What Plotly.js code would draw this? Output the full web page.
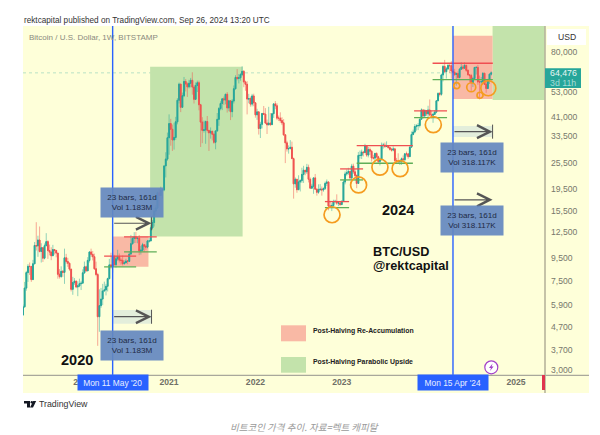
<!DOCTYPE html>
<html><head><meta charset="utf-8">
<script src="https://cdn.plot.ly/plotly-3.0.1.min.js"></script>
<style>html,body{margin:0;padding:0;background:#fff}#c{width:600px;height:435px}</style>
</head><body><div id="c"></div>
<script>
const firstWeek = '2019-04-29';
const firstOpen = 5300;
const closes = [
5760,6990,8200,8750,8730,7630,8980,10850,10800,11480,10200,10600,9520,10820,11290,10300,10140,9760,10400,10310,10030,8060,7870,8310,8220,9550,9200,9030,8500,6900,7400,7510,7070,7150,7310,7350,
8180,8700,8350,9300,10150,9900,9660,8530,8040,5200,5830,6240,6780,6860,7120,7700,8880,8720,9680,8900,9450,9670,9330,9300,9000,9070,9240,9210,9930,11050,11680,11860,11650,11700,10260,10330,10930,10770,10670,11370,11370,13020,13760,15480,15980,18680,18180,19150,19270,24680,26480,33000,
38200,36000,32260,33100,38900,48600,57400,45200,50900,59000,57500,55800,57900,59700,55700,49100,56600,58200,46400,38800,35600,35800,39000,35600,34700,35300,34200,31500,35400,39900,44600,47000,49300,48800,51700,44900,48300,43200,48200,54700,61500,60900,61300,63300,65500,58700,57300,49200,49400,46700,50800,47300,
41800,43100,36300,37900,42400,42100,38400,37700,38400,37800,42300,46800,45900,40400,40400,39400,38500,34000,31300,29400,29500,29900,26600,20500,21500,19300,20900,21200,22600,23600,23200,24300,21500,19600,20000,21800,19400,18800,19300,19400,19250,19570,20600,20900,16300,16280,16400,17100,17100,16800,16840,16550,
17100,20900,22700,23000,23300,21800,24600,23200,22350,20600,27500,27500,28450,28300,30300,27600,29200,28700,26800,26750,28050,27100,25850,26330,30500,30600,30200,30300,29800,29300,29050,29400,26100,26000,25800,25900,26550,26300,27970,27950,27150,29950,34100,35000,37050,37350,37450,39950,44000,41350,43700,42250,
43950,41700,41600,42000,43000,48300,52100,51700,63100,68900,65300,67200,69600,69400,65700,64900,63400,64000,61500,67000,68500,67700,69600,66200,63200,62700,58200,60800,68200,68200,58700,58700,58900,64200,57300,54900,59900,63600,64476];
const highs = [
5900,7450,8350,8950,9100,8800,9350,11250,13800,12000,13200,11100,10650,11080,12320,11450,10950,10650,10920,10450,10350,10050,8500,8750,8420,10500,9950,9550,9100,8500,7850,7750,7550,7500,7700,7530,
8480,9190,8800,9620,10190,10500,10250,9980,9180,8180,6900,7000,7300,7470,7300,7780,9450,10070,9950,9850,9740,10380,9990,9550,9780,9300,9460,9340,10200,12100,11900,12450,12480,11800,12090,10800,11150,10990,10960,11490,11730,13350,14100,15980,16480,18950,19480,19900,19420,24700,28400,34800,
42000,40100,37800,38500,40950,49700,58300,57500,52600,61800,60500,58400,60000,61200,64850,57000,58400,59500,59500,46800,40800,39400,39400,41300,35700,36700,35100,34700,35500,42600,45300,48100,49700,50500,51900,52900,48800,48000,49200,56600,62900,67000,63700,64300,69000,66300,59500,59200,51900,50500,51900,52000,
47500,44500,43500,38900,42600,45800,44800,39800,45400,42600,42400,47000,48200,47100,41500,42900,40800,40000,34200,32000,30500,32200,31700,26900,21900,21500,22400,21500,24200,24700,23500,25200,25000,21900,20500,21850,22700,19600,20400,20450,19950,19700,21000,21450,21000,17200,16800,17400,17400,18400,17050,16950,
17300,21300,23300,23800,24200,23400,25200,25250,23900,22600,28500,28900,29200,28800,31000,30300,30000,29850,29100,27650,28250,28400,27400,26800,31400,31300,31400,31800,30400,30100,29700,30200,29700,26800,28100,26100,26900,27500,28000,28600,28000,30200,35200,35900,38000,37950,38400,40200,44700,44000,44300,43800,
45900,49000,43600,42800,43900,48600,52800,52900,64000,70100,73700,68500,71500,71300,72700,66900,67200,64800,65500,67700,71900,70000,71900,70200,66900,63400,63800,61800,68400,69000,70000,62700,61800,64900,64500,59800,60600,64100,65500];
const lows = [
5250,5700,6800,7450,8000,7450,7600,8950,10300,9650,10100,9100,9150,9400,11000,9450,9800,9320,9760,9880,9600,7700,7710,7770,7850,7300,9000,8700,8350,6750,6520,7230,6980,6430,7050,6850,
7350,8100,8260,8550,9100,9650,9300,8430,7900,3850,4450,5700,5860,6770,6480,6750,7660,8530,8200,8800,8630,9270,9100,8900,8830,8900,9040,8950,9150,9900,10950,11130,11130,11100,9820,9880,10200,10130,10370,10530,11170,11340,12800,13200,14850,15800,16200,18100,17600,19000,21900,26000,
27700,30400,28800,29200,32300,37900,47000,43000,45000,50200,53200,50300,54900,55500,51500,47000,48800,52900,43800,30000,31200,34800,31000,34800,28800,32700,32100,31000,29300,35200,37300,43800,43900,46300,46600,42800,43400,39600,40800,47000,54400,59700,57800,59500,62300,55600,53600,42000,47100,45500,45600,45700,
40600,39700,34100,32900,36300,41700,38000,34300,37700,37200,37600,40500,44300,39600,39200,38500,37600,33700,25400,28600,28000,29300,26600,17600,19700,18700,19300,18950,20700,20700,22400,22700,20800,19550,19500,18500,19300,18150,18500,19100,18150,18900,19250,20050,15600,16150,15480,16000,16750,16500,16300,16350,
16550,17100,20400,22300,22500,21400,21400,22700,21950,19600,20600,26600,26500,27200,28200,27100,26950,27650,25800,26350,25900,26600,25350,24800,26300,29500,29700,29950,29500,28900,28600,28700,25300,25350,25350,24900,24950,26000,26000,27200,26550,27100,29900,33900,34500,35500,35700,36700,39900,40200,40550,41300,
40800,41500,40300,38500,41900,42500,48400,50500,50900,59000,64500,60800,66500,64500,60700,59600,62400,56500,60200,60800,66500,66700,67500,65100,63000,58400,53500,55700,59800,63400,57000,49000,56100,57800,57200,52500,54600,57500,62700];

const priceTicks = [3000,3700,4700,5900,7500,9500,12500,15500,19500,25500,33500,41000,53000,80000];
const priceLabels = ['3,000','3,700','4,700','5,900','7,500','9,500','12,500','15,500','19,500','25,500','33,500','41,000','53,000','80,000'];
const yearTicks = ['2020-01-06','2021-01-04','2022-01-03','2023-01-02','2024-01-01','2025-01-06'];
const yearLabels = ['<b>2020</b>','<b>2021</b>','<b>2022</b>','<b>2023</b>','<b>2024</b>','<b>2025</b>'];
const lastPrice = 64476;
const halvingWeeks = ['2020-05-11','2024-04-15'];
const halvingLabels = ["Mon 11 May '20","Mon 15 Apr '24"];

// [from, to, low, high]
const pinkZones = [['2020-05-11','2020-10-09',8720,11900],['2024-04-15','2024-09-29',49250,94650]];
const greenZones = [['2020-10-16','2021-11-10',11900,68600],['2024-09-29','2025-05-08',48750,104600]];
// [from, to, price]
const resistance = [['2020-04-05','2020-08-18',9720],['2020-06-28','2020-11-13',11860],['2022-10-23','2023-02-02',17070],['2022-12-26','2023-04-02',23920],['2023-03-06','2023-10-29',30420],['2023-11-03','2024-03-21',43520],['2024-01-20','2024-09-30',71200]];
const support = [['2020-04-05','2020-08-18',8700],['2020-06-28','2020-11-13',10160],['2022-10-23','2023-02-02',16040],['2022-12-26','2023-04-02',21350],['2023-03-06','2023-10-29',25360],['2023-11-03','2024-03-21',40600],['2024-01-20','2024-09-30',60100]];
// [date, price, radius px]
const dips = [['2022-11-22',14900,8],['2023-03-14',20270,8],['2023-06-12',24340,8],['2023-09-05',23990,8],['2024-01-23',37780,8],['2024-05-01',56500,3],['2024-07-01',55570,4.5],['2024-08-07',51170,3],['2024-09-11',55020,7.5]];
// [from, to, price, bandLow, bandHigh, endBar]
const ranges = [['2020-05-11','2020-10-22',13650,null,null,true],['2020-05-11','2020-10-22',5200,4830,5580,true],['2024-04-15','2024-09-29',35150,33280,37270,true],['2024-04-15','2024-09-29',17380,null,null,false]];
// [date, price, line 1, line 2]
const rangeNotes = [['2020-08-01',16840,'23 bars, 161d','Vol 1.183M'],['2020-08-01',3870,'23 bars, 161d','Vol 1.183M'],['2024-07-06',26850,'23 bars, 161d','Vol 318.117K'],['2024-07-06',13980,'23 bars, 161d','Vol 318.117K']];

const W=522, H=349, L=23, T=26;
const yLow=2849, yHigh=104600;
const pxPerLn = H/Math.log(yHigh/yLow);
const px = x => (x-L)/W;
const py = y => (T+H-y)/H;
const sans = 'Liberation Sans, Arimo, sans-serif';
const weeks = closes.map((_,i)=>new Date(Date.parse(firstWeek+'T00:00:00Z')+i*7*864e5).toISOString().slice(0,10));
const opens = [firstOpen].concat(closes.slice(0,-1));

const wicks = {type:'candlestick', x:weeks, open:opens, high:highs, low:lows, close:closes,
  increasing:{line:{color:'rgba(38,166,154,0.5)',width:1},fillcolor:'rgba(0,0,0,0)'},
  decreasing:{line:{color:'rgba(239,83,80,0.5)',width:1},fillcolor:'rgba(0,0,0,0)'},
  whiskerwidth:0, hoverinfo:'skip', showlegend:false};
const bodies = {type:'candlestick', x:weeks, open:opens, high:opens.map((o,i)=>Math.max(o,closes[i])), low:opens.map((o,i)=>Math.min(o,closes[i])), close:closes,
  increasing:{line:{color:'#26a69a',width:1},fillcolor:'#26a69a'},
  decreasing:{line:{color:'#ef5350',width:1},fillcolor:'#ef5350'},
  whiskerwidth:0, hoverinfo:'skip', showlegend:false};

const paperRect=(x0,y0,x1,y1,fill,layer)=>({type:'rect',xref:'paper',yref:'paper',x0:px(x0),x1:px(x1),y0:py(y0),y1:py(y1),fillcolor:fill,line:{width:0},layer:layer||'above'});
const paperLine=(x0,y0,x1,y1,color,width,layer)=>({type:'line',xref:'paper',yref:'paper',x0:px(x0),x1:px(x1),y0:py(y0),y1:py(y1),line:{color,width},layer:layer||'above'});
const p = (x,y)=>px(x).toFixed(5)+','+py(y).toFixed(5);

const shapes = [
  paperRect(23,26,589,393,'#feffd9','below'),
  {type:'line',xref:'paper',yref:'y',x0:0,x1:1,y0:lastPrice,y1:lastPrice,line:{color:'rgba(38,166,154,0.32)',width:1,dash:'dot'},layer:'below'},
  ...greenZones.map(z=>({type:'rect',xref:'x',yref:'y',x0:z[0],x1:z[1],y0:z[2],y1:z[3],fillcolor:'#c3e3ab',line:{width:0},layer:'below'})),
  ...pinkZones.map(z=>({type:'rect',xref:'x',yref:'y',x0:z[0],x1:z[1],y0:z[2],y1:z[3],fillcolor:'#f9b9a5',line:{width:0},layer:'below'})),
  ...ranges.filter(r=>r[3]).map(r=>({type:'rect',xref:'x',yref:'y',x0:r[0],x1:r[1],y0:r[3],y1:r[4],fillcolor:'#e3eedb',line:{width:0},layer:'below'})),
  ...resistance.map(r=>({type:'line',xref:'x',yref:'y',x0:r[0],x1:r[1],y0:r[2],y1:r[2],line:{color:'#ef4f52',width:1.3}})),
  ...support.map(r=>({type:'line',xref:'x',yref:'y',x0:r[0],x1:r[1],y0:r[2],y1:r[2],line:{color:'#5fae57',width:1.3}})),
  ...halvingWeeks.map(d=>({type:'line',xref:'x',yref:'paper',x0:d,x1:d,y0:0,y1:1,line:{color:'#2962ff',width:1.4}})),
  ...dips.map(d=>({type:'circle',xref:'x',yref:'y',xsizemode:'pixel',xanchor:d[0],x0:-d[2],x1:d[2],y0:d[1]*Math.exp(-d[2]/pxPerLn),y1:d[1]*Math.exp(d[2]/pxPerLn),line:{color:'#f59c1f',width:1.7}})),
  ...ranges.filter(r=>r[5]).map(r=>({type:'line',xref:'x',yref:'y',x0:r[1],x1:r[1],y0:r[2]*0.93,y1:r[2]*1.075,line:{color:'#555',width:1}})),
  paperLine(23,375.3,589,375.3,'#a9a89c',1.2),
  paperLine(545,26,545,393,'#b7b49c',1.6),
  paperRect(542,375,545,390,'#e0344e'),
  paperRect(281,325.3,306,341.3,'#f9b9a5'),
  paperRect(281,357,306,372.7,'#c3e3ab'),
  paperRect(547,29,586,45,'#ffffff'),
  paperRect(545,68.3,581,88,'#26a69a'),
  {type:'circle',xref:'paper',yref:'paper',x0:px(484.8),x1:px(497.8),y0:py(360.8),y1:py(373.8),fillcolor:'#ffffff',line:{color:'#a23fc9',width:1.2}},
  {type:'path',xref:'paper',yref:'paper',path:'M'+p(492.6,363.6)+'L'+p(489,368)+'L'+p(491,368)+'L'+p(490,371)+'L'+p(493.6,366.6)+'L'+p(491.6,366.6)+'Z',fillcolor:'#a23fc9',line:{width:0}},
  {type:'path',xref:'paper',yref:'paper',path:'M'+p(24,401)+'L'+p(30,401)+'L'+p(30,407.5)+'L'+p(27,407.5)+'L'+p(27,403.6)+'L'+p(24,403.6)+'Z',fillcolor:'#131722',line:{width:0}},
  {type:'circle',xref:'paper',yref:'paper',x0:px(30.6),x1:px(33),y0:py(401),y1:py(403.4),fillcolor:'#131722',line:{width:0}},
  {type:'path',xref:'paper',yref:'paper',path:'M'+p(33.2,401)+'L'+p(36.2,401)+'L'+p(33,407.5)+'L'+p(30,407.5)+'Z',fillcolor:'#131722',line:{width:0}}
];

const txt=(x,y,text,size,color,o)=>Object.assign({xref:'paper',yref:'paper',x:px(x),y:py(y),text,showarrow:false,xanchor:'center',yanchor:'middle',font:{family:sans,size,color}},o||{});
const annotations = [
  ...ranges.map(r=>({xref:'x',yref:'y',axref:'x',ayref:'y',x:r[1],y:Math.log10(r[2]),ax:r[0],ay:Math.log10(r[2]),text:'',showarrow:true,arrowhead:5,arrowsize:2.1,arrowwidth:1.2,arrowcolor:'#555'})),
  ...rangeNotes.map(n=>({xref:'x',yref:'y',x:n[0],y:Math.log10(n[1]),text:n[2]+'<br>'+n[3],showarrow:false,width:62,height:29,borderpad:0,bgcolor:'rgba(100,136,192,0.92)',font:{family:sans,size:8.1,color:'#1f2a44'},align:'center'})),
  ...halvingWeeks.map((d,i)=>({xref:'x',yref:'paper',x:d,y:py(382.8),yanchor:'middle',text:halvingLabels[i],showarrow:false,width:69.5,height:15,borderpad:0,bgcolor:'#2962ff',font:{family:sans,size:8.4,color:'#e8eeff'}})),
  txt(22,20,'rektcapital published on TradingView.com, Sep 26, 2024 13:20 UTC',8.2,'#333',{xanchor:'left'}),
  txt(27,37,'Bitcoin / U.S. Dollar, 1W, BITSTAMP',8,'#8a8a7e',{xanchor:'left'}),
  txt(566.5,37,'USD',8.6,'#333'),
  txt(77,360,'<b>2020</b>',14.5,'#111'),
  txt(397.5,210,'<b>2024</b>',14.5,'#111'),
  txt(370.7,252,'<b>BTC/USD</b>',12.7,'#111',{xanchor:'left'}),
  txt(370.7,265.7,'<b>@rektcapital</b>',12.7,'#111',{xanchor:'left'}),
  txt(311.3,330.7,'<b>Post-Halving Re-Accumulation</b>',6.9,'#222',{xanchor:'left'}),
  txt(311.3,361.7,'<b>Post-Halving Parabolic Upside</b>',6.9,'#222',{xanchor:'left'}),
  txt(548,73,'64,476',8.8,'#e8f6f4',{xanchor:'left'}),
  txt(548,82.6,'3d 11h',8.8,'#a8dcd6',{xanchor:'left'}),
  txt(37,404.2,'TradingView',8.8,'#333',{xanchor:'left'}),
  txt(304.5,427,'<i>비트코인 가격 추이. 자료=렉트 캐피탈</i>',9.5,'#9a9a9a',{font:{family:'Noto Sans CJK KR, sans-serif',size:9.5,color:'#9a9a9a'}})
];

const layout = {
  width:600,height:435,margin:{l:L,r:600-L-W,t:T,b:435-T-H,pad:0},
  paper_bgcolor:'#ffffff',plot_bgcolor:'rgba(0,0,0,0)',showlegend:false,dragmode:false,
  xaxis:{type:'date',range:['2019-04-29','2025-05-08'],rangeslider:{visible:false},showgrid:false,zeroline:false,showline:false,
    tickmode:'array',tickvals:yearTicks,ticktext:yearLabels,ticks:'',tickangle:0,tickfont:{family:sans,size:8.6,color:'#6f6f66'},ticklabelposition:'outside'},
  yaxis:{type:'log',side:'right',range:[Math.log10(yLow),Math.log10(yHigh)],showgrid:false,zeroline:false,showline:false,
    tickmode:'array',tickvals:priceTicks,ticktext:priceLabels,ticks:'',tickfont:{family:sans,size:8.6,color:'#77776c'},ticklabelstandoff:5},
  shapes,annotations
};
Plotly.newPlot('c',[wicks,bodies],layout,{displayModeBar:false,staticPlot:true});
</script></body></html>
